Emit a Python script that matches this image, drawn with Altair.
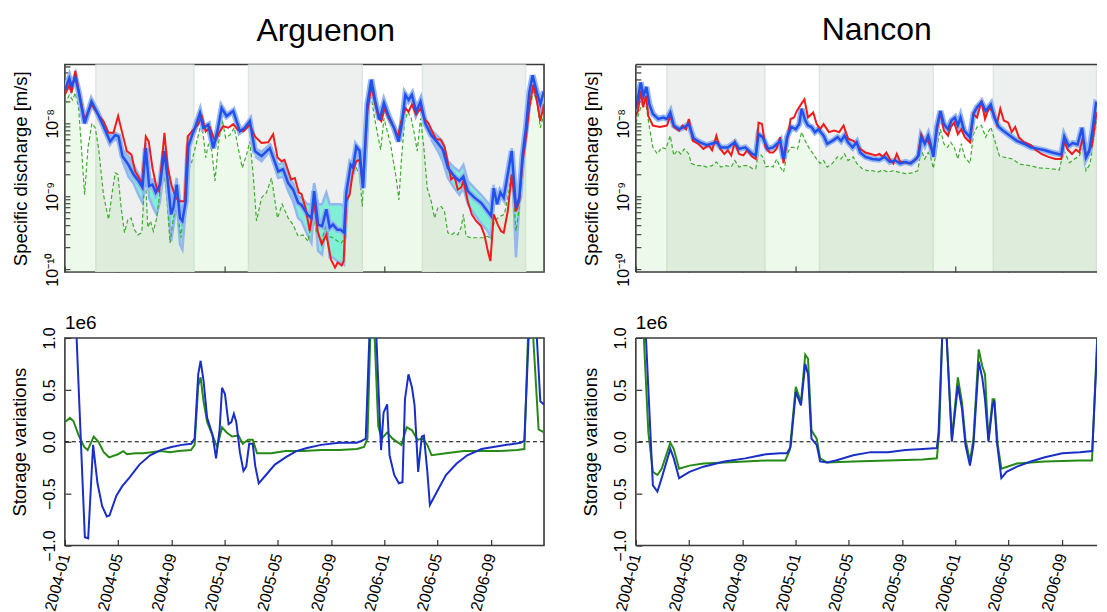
import altair as alt
import pandas as pd

# ---------------- data (t = months since 2004-01-01) ----------------
# top panels: log10 of specific discharge [m/s]
arg_red = [(0.0,-7.61),(0.33,-7.47),(0.5,-7.58),(0.78,-7.28),(1.0,-7.52),(1.48,-7.95),(2.0,-7.74),(2.5,-7.88),(2.9,-7.97),(3.28,-8.13),
           (3.65,-8.13),(4.0,-7.9),(4.28,-8.11),(4.65,-8.38),(5.0,-8.43),(5.28,-8.66),(5.65,-8.77),(5.8,-8.83),(6.08,-8.18),(6.3,-8.25),
           (6.58,-8.61),(6.9,-8.89),(7.08,-8.93),(7.48,-8.13),(7.73,-8.61),(8.03,-8.86),(8.33,-9.02),(8.65,-9.07),(9.0,-9.07),(9.23,-8.18),
           (9.65,-8.09),(10.0,-8.02),(10.28,-7.9),(10.58,-8.11),(10.9,-8.06),(11.28,-8.25),(11.65,-8.11),(11.9,-8.04),(12.28,-8.06),(12.65,-8.01),
           (13.0,-8.09),(13.4,-8.11),(13.9,-8.02),(14.28,-8.18),(14.78,-8.27),(15.28,-8.26),(15.65,-8.15),(15.98,-8.47),(16.28,-8.52),(16.5,-8.5),
           (17.0,-8.77),(17.28,-8.75),(17.58,-8.95),(17.78,-8.97),(18.08,-9.16),(18.4,-9.48),(18.73,-9.07),(19.0,-9.48),(19.3,-9.66),(19.65,-9.53),
           (20.0,-9.87),(20.3,-9.98),(20.5,-9.91),(20.8,-9.95),(20.95,-9.89),(21.15,-9.07),(21.4,-8.98),(21.65,-8.66),(21.9,-8.52),(22.15,-8.5),
           (22.4,-8.84),(22.73,-7.84),(23.03,-7.49),(23.33,-7.74),(23.58,-7.93),(23.78,-7.97),(24.03,-7.79),(24.33,-7.93),(24.73,-8.06),(25.03,-8.18),
           (25.28,-7.97),(25.58,-7.79),(25.83,-7.84),(26.08,-7.74),(26.4,-7.88),(26.73,-7.79),(27.08,-7.95),(27.33,-8.0),(27.65,-8.13),(27.9,-8.22),
           (28.23,-8.22),(28.53,-8.32),(28.78,-8.54),(29.03,-8.77),(29.28,-8.73),(29.53,-8.91),(29.78,-8.88),(29.95,-8.79),(30.28,-9.07),(30.58,-9.25),
           (30.9,-9.34),(31.28,-9.41),(31.53,-9.53),(31.78,-9.75),(31.98,-9.89),(32.23,-9.25),(32.53,-9.39),(32.78,-9.48),(32.98,-9.5),(33.28,-9.21),
           (33.58,-8.7),(33.9,-9.21),(34.15,-9.07),(34.4,-8.52),(34.65,-8.2),(34.9,-7.79),(35.2,-7.47),(35.48,-7.7),(35.73,-7.97),(36.0,-7.74)]

arg_blue = [(0.0,-7.54),(0.33,-7.38),(0.5,-7.49),(0.78,-7.37),(1.03,-7.56),(1.48,-8.0),(2.0,-7.70),(2.4,-7.84),(2.9,-8.04),(3.4,-8.25),
            (3.78,-8.16),(4.03,-8.18),(4.33,-8.45),(4.78,-8.57),(5.15,-8.7),(5.53,-8.79),(5.83,-8.88),(6.08,-8.34),(6.33,-8.86),(6.58,-8.84),
            (6.83,-8.95),(7.15,-8.84),(7.48,-8.38),(7.73,-8.79),(7.98,-9.25),(8.15,-9.16),(8.4,-8.84),(8.65,-9.3),(8.83,-9.34),(9.08,-9.07),
            (9.28,-8.32),(9.53,-8.18),(9.78,-8.06),(10.15,-7.86),(10.4,-8.06),(10.78,-8.02),(11.15,-8.34),(11.48,-8.09),(11.78,-7.79),(12.15,-7.9),
            (12.65,-7.83),(13.15,-8.11),(13.53,-8.06),(13.9,-7.97),(14.28,-8.38),(14.78,-8.45),(15.4,-8.34),(16.03,-8.66),(16.4,-8.63),(16.78,-8.82),
            (17.15,-8.91),(17.53,-9.09),(17.78,-9.12),(18.23,-9.25),(18.53,-9.3),(18.73,-8.93),(19.03,-9.39),(19.33,-9.41),(19.65,-9.18),(19.9,-9.43),
            (20.15,-9.39),(20.48,-9.46),(20.73,-9.46),(20.98,-9.5),(21.15,-8.95),(21.48,-8.57),(21.65,-8.61),(21.9,-8.32),(22.15,-8.38),(22.4,-8.89),
            (22.73,-7.74),(23.03,-7.4),(23.33,-7.7),(23.65,-7.95),(23.98,-7.72),(24.33,-7.9),(24.73,-8.06),(25.08,-8.25),(25.33,-8.0),(25.58,-7.61),
            (25.83,-7.68),(26.08,-7.61),(26.4,-7.84),(26.73,-7.7),(27.08,-8.0),(27.53,-8.16),(28.03,-8.27),(28.4,-8.36),(28.78,-8.61),(29.28,-8.73),
            (29.65,-8.79),(29.95,-8.73),(30.28,-8.93),(30.78,-9.02),(31.28,-9.09),(31.78,-9.21),(32.03,-9.27),(32.23,-8.89),(32.48,-9.11),(32.73,-8.95),
            (32.98,-9.02),(33.28,-8.7),(33.58,-8.38),(33.9,-9.16),(34.15,-9.02),(34.4,-8.43),(34.65,-8.06),(34.9,-7.58),(35.15,-7.34),(35.48,-7.58),
            (35.73,-7.74),(36.0,-7.56)]

arg_green = [(0.0,-7.74),(0.33,-7.61),(0.58,-7.68),(0.78,-7.58),(1.03,-7.79),(1.23,-8.29),(1.48,-8.98),(1.73,-8.34),(2.03,-8.0),(2.28,-8.06),
             (2.53,-8.34),(2.9,-8.98),(3.28,-9.32),(3.53,-8.98),(3.78,-8.68),(3.98,-8.7),(4.23,-9.16),(4.48,-9.5),(4.73,-9.32),(4.98,-9.3),
             (5.23,-9.46),(5.48,-9.53),(5.78,-9.5),(6.03,-8.66),(6.23,-9.43),(6.43,-9.34),(6.65,-9.48),(6.9,-9.3),(7.15,-8.93),(7.4,-8.61),
             (7.65,-8.98),(7.9,-9.64),(8.15,-9.3),(8.4,-9.16),(8.73,-9.57),(8.98,-9.02),(9.23,-8.61),(9.48,-8.57),(9.73,-8.38),(10.03,-8.16),
             (10.28,-7.97),(10.58,-8.47),(10.78,-8.29),(11.03,-8.36),(11.28,-8.79),(11.53,-8.29),(11.83,-7.95),(12.08,-8.2),(12.4,-8.16),(12.73,-8.06),
             (13.03,-8.34),(13.33,-8.61),(13.65,-8.43),(13.9,-8.25),(14.15,-8.7),(14.4,-9.34),(14.78,-9.02),(15.15,-8.95),(15.53,-8.75),(15.98,-9.3),
             (16.33,-9.11),(16.78,-9.3),(17.15,-9.39),(17.53,-9.55),(17.9,-9.53),(18.28,-9.62),(18.65,-9.21),(18.9,-9.48),(19.28,-9.62),(19.58,-9.43),
             (19.83,-9.55),(20.15,-9.57),(20.53,-9.62),(20.78,-9.64),(20.98,-9.59),(21.28,-9.02),(21.53,-8.75),(21.9,-8.61),(22.15,-8.7),(22.35,-9.14),
             (22.65,-8.06),(22.98,-7.58),(23.23,-7.88),(23.48,-8.13),(23.73,-8.36),(23.98,-7.93),(24.23,-8.11),(24.48,-8.29),(24.73,-8.57),(24.9,-8.75),
             (25.1,-9.05),(25.28,-8.52),(25.53,-7.97),(25.78,-7.84),(26.03,-7.93),(26.28,-8.16),(26.48,-8.38),(26.73,-7.93),(26.98,-8.34),(27.23,-8.89),
             (27.53,-9.07),(27.78,-9.3),(28.03,-9.16),(28.28,-9.14),(28.53,-9.21),(28.78,-9.5),(29.03,-9.53),(29.28,-9.5),(29.53,-9.53),(29.78,-9.43),
             (29.95,-9.25),(30.15,-9.55),(30.53,-9.57),(31.03,-9.57),(31.4,-9.57),(31.78,-9.55),(32.03,-9.59),(32.28,-9.34),(32.53,-9.3),(32.78,-9.27),
             (33.03,-9.25),(33.33,-8.98),(33.58,-8.66),(33.9,-9.48),(34.15,-9.16),(34.4,-8.57),(34.65,-8.11),(34.9,-7.84),(35.2,-7.56),(35.48,-7.7),
             (35.73,-8.06),(36.0,-7.88)]

# ensemble envelope of the Arguenon simulation where it is wide: (t, upper log10, lower log10)
arg_env_a = [(3.28,-8.18,-8.29),(3.78,-8.13,-8.22),(4.03,-8.16,-8.25),(4.33,-8.36,-8.52),(4.78,-8.45,-8.73),(5.15,-8.57,-8.82),
             (5.53,-8.70,-8.98),(5.83,-8.79,-9.09),(6.08,-8.27,-8.43),(6.33,-8.77,-9.02),(6.65,-8.77,-9.16),(6.9,-8.89,-9.25),
             (7.15,-8.77,-9.07),(7.48,-8.34,-8.57),(7.73,-8.70,-9.07),(7.98,-9.16,-9.62),(8.15,-9.07,-9.43),(8.4,-8.75,-9.07),
             (8.65,-9.21,-9.66),(8.83,-9.25,-9.73),(9.08,-9.02,-9.16),(9.28,-8.29,-8.36)]
arg_env_b = [(14.28,-8.34,-8.45),(14.78,-8.39,-8.52),(15.4,-8.29,-8.38),(16.03,-8.57,-8.75),(16.4,-8.54,-8.73),(16.78,-8.73,-8.93),
             (17.15,-8.82,-9.07),(17.53,-9.0,-9.30),(17.78,-9.02,-9.34),(18.23,-9.11,-9.53),(18.53,-9.11,-9.64),(18.73,-8.82,-9.11),
             (19.03,-9.11,-9.75),(19.33,-9.11,-9.80),(19.65,-8.95,-9.34),(19.9,-9.11,-9.84),(20.15,-9.11,-9.84),(20.48,-9.11,-9.89),
             (20.73,-9.11,-9.91),(20.98,-9.14,-9.94),(21.15,-8.89,-9.07)]
arg_env_c = [(27.53,-8.09,-8.22),(28.03,-8.18,-8.38),(28.4,-8.25,-8.52),(28.78,-8.52,-8.75),(29.28,-8.61,-8.89),(29.65,-8.66,-8.98),
             (29.95,-8.57,-8.89),(30.28,-8.79,-9.11),(30.78,-8.89,-9.25),(31.28,-8.98,-9.37),(31.78,-9.09,-9.48),(32.03,-9.16,-9.57),
             (32.23,-8.84,-8.95)]
arg_env_d = [(33.58,-8.34,-8.45),(33.9,-9.07,-9.84),(34.15,-8.98,-9.11)]

nan_red = [(0.0,-7.9),(0.16,-7.83),(0.37,-7.55),(0.55,-7.78),(0.76,-7.62),(0.94,-7.9),(1.28,-8.03),(1.81,-8.05),(2.33,-8.03),(2.59,-7.9),
           (2.85,-8.05),(3.25,-8.1),(3.51,-8.03),(3.77,-8.08),(3.98,-7.94),(4.29,-8.24),(4.69,-8.28),(5.08,-8.35),(5.47,-8.3),(5.73,-8.37),
           (6.05,-8.17),(6.34,-8.35),(6.65,-8.42),(6.91,-8.37),(7.17,-8.44),(7.44,-8.26),(7.75,-8.42),(8.09,-8.44),(8.35,-8.37),(8.75,-8.46),
           (9.01,-8.49),(9.22,-7.99),(9.48,-8.01),(9.74,-8.33),(10.06,-8.4),(10.32,-8.4),(10.58,-8.35),(10.84,-8.19),(11.1,-8.55),(11.36,-8.24),
           (11.63,-7.94),(11.89,-7.92),(12.1,-7.83),(12.41,-7.74),(12.67,-7.67),(12.94,-7.92),(13.33,-7.85),(13.59,-8.01),(13.85,-8.08),(14.11,-8.01),
           (14.51,-8.12),(14.9,-8.1),(15.29,-8.12),(15.61,-8.03),(15.95,-8.21),(16.34,-8.24),(16.6,-8.28),(16.86,-8.35),(17.26,-8.4),(17.65,-8.42),
           (18.04,-8.44),(18.3,-8.42),(18.57,-8.46),(18.83,-8.4),(19.09,-8.49),(19.35,-8.55),(19.61,-8.42),(19.87,-8.53),(20.14,-8.53),(20.53,-8.55),
           (20.92,-8.51),(21.18,-8.46),(21.45,-8.15),(21.71,-8.26),(21.97,-8.24),(22.15,-8.33),(22.36,-8.4),(22.62,-8.1),(22.89,-7.85),(23.15,-8.1),
           (23.46,-8.17),(23.67,-8.05),(23.93,-7.99),(24.2,-8.15),(24.46,-8.08),(24.72,-8.19),(25.11,-8.26),(25.37,-7.87),(25.64,-7.92),(25.98,-7.69),
           (26.24,-7.94),(26.55,-7.78),(26.87,-7.85),(27.13,-8.01),(27.39,-7.8),(27.65,-7.96),(27.99,-7.99),(28.25,-8.12),(28.51,-8.05),(28.78,-8.19),
           (29.17,-8.26),(29.69,-8.3),(30.09,-8.37),(30.48,-8.42),(31.0,-8.46),(31.53,-8.49),(31.97,-8.49),(32.2,-8.24),(32.45,-8.36),(32.78,-8.42),
           (33.08,-8.36),(33.33,-8.4),(33.58,-8.2),(33.83,-8.45),(34.08,-8.36),(34.28,-8.31),(34.58,-7.9),(34.83,-7.79),(35.08,-7.65),(35.5,-7.55),
           (36.0,-7.5)]

nan_blue = [(0.0,-7.8),(0.16,-7.65),(0.37,-7.44),(0.58,-7.62),(0.79,-7.5),(1.02,-7.74),(1.28,-7.87),(1.68,-7.94),(2.07,-7.92),(2.33,-7.94),
            (2.59,-7.85),(2.85,-8.03),(3.25,-8.08),(3.64,-8.05),(3.98,-8.01),(4.35,-8.21),(4.82,-8.26),(5.34,-8.3),(6.05,-8.26),(6.39,-8.33),
            (6.91,-8.33),(7.44,-8.26),(7.75,-8.35),(8.22,-8.33),(8.75,-8.42),(9.01,-8.44),(9.22,-8.15),(9.53,-8.19),(9.92,-8.35),(10.32,-8.33),
            (10.63,-8.28),(10.84,-8.24),(11.1,-8.49),(11.36,-8.19),(11.68,-8.05),(12.02,-8.08),(12.28,-8.01),(12.46,-7.8),(12.73,-7.96),(12.94,-8.03),
            (13.2,-8.05),(13.46,-8.12),(13.72,-8.08),(14.11,-8.17),(14.38,-8.28),(14.77,-8.24),(15.16,-8.19),(15.42,-8.24),(15.68,-8.17),(15.95,-8.26),
            (16.29,-8.33),(16.6,-8.26),(16.86,-8.4),(17.26,-8.46),(17.78,-8.49),(18.3,-8.5),(18.7,-8.46),(19.09,-8.53),(19.48,-8.51),(19.87,-8.55),
            (20.27,-8.53),(20.66,-8.55),(21.05,-8.49),(21.26,-8.44),(21.45,-8.19),(21.71,-8.28),(21.97,-8.17),(22.15,-8.28),(22.36,-8.46),(22.62,-8.05),
            (22.89,-7.83),(23.15,-8.01),(23.46,-8.08),(23.72,-7.96),(23.98,-7.92),(24.2,-8.03),(24.4,-7.92),(24.67,-8.1),(25.11,-8.19),(25.37,-7.87),
            (25.64,-7.78),(25.98,-7.71),(26.29,-7.83),(26.68,-7.74),(26.94,-7.92),(27.28,-8.05),(27.6,-8.1),(28.12,-8.17),(28.64,-8.24),(29.17,-8.28),
            (29.69,-8.33),(30.22,-8.35),(30.74,-8.37),(31.27,-8.4),(31.97,-8.43),(32.2,-8.18),(32.53,-8.31),(32.83,-8.27),(33.2,-8.29),(33.53,-8.06),
            (33.83,-8.47),(34.08,-8.38),(34.33,-8.08),(34.58,-7.72),(34.83,-7.74),(35.08,-7.53),(35.5,-7.45),(36.0,-7.45)]

nan_green = [(0.0,-8.0),(0.1,-7.94),(0.37,-7.78),(0.58,-7.67),(0.79,-7.78),(1.02,-8.05),(1.28,-8.33),(1.62,-8.42),(1.94,-8.33),(2.25,-8.35),
             (2.59,-8.17),(2.85,-8.44),(3.12,-8.37),(3.38,-8.42),(3.64,-8.35),(3.98,-8.42),(4.16,-8.55),(4.56,-8.58),(4.95,-8.58),(5.34,-8.6),
             (5.73,-8.58),(6.05,-8.53),(6.39,-8.6),(6.78,-8.58),(7.17,-8.6),(7.44,-8.51),(7.75,-8.6),(8.09,-8.58),(8.43,-8.58),(8.75,-8.62),
             (9.01,-8.62),(9.22,-8.4),(9.53,-8.46),(9.79,-8.6),(10.06,-8.58),(10.32,-8.6),(10.58,-8.49),(10.84,-8.6),(11.1,-8.67),(11.36,-8.42),
             (11.63,-8.33),(11.89,-8.33),(12.15,-8.35),(12.46,-8.12),(12.73,-8.24),(12.99,-8.33),(13.33,-8.42),(13.59,-8.49),(13.85,-8.55),(14.11,-8.51),
             (14.38,-8.6),(14.77,-8.55),(15.16,-8.46),(15.42,-8.49),(15.68,-8.42),(15.95,-8.51),(16.34,-8.46),(16.6,-8.55),(16.99,-8.62),(17.39,-8.65),
             (17.78,-8.65),(18.17,-8.67),(18.57,-8.64),(18.96,-8.67),(19.35,-8.65),(19.74,-8.67),(20.27,-8.69),(20.79,-8.68),(21.18,-8.65),(21.45,-8.37),
             (21.71,-8.49),(21.97,-8.4),(22.15,-8.46),(22.36,-8.62),(22.62,-8.33),(22.89,-8.08),(23.15,-8.28),(23.41,-8.33),(23.67,-8.26),(23.93,-8.33),
             (24.2,-8.49),(24.46,-8.28),(24.72,-8.46),(25.11,-8.55),(25.37,-8.15),(25.64,-8.05),(25.98,-8.03),(26.29,-8.19),(26.68,-8.05),(26.95,-8.22),
             (27.33,-8.45),(27.83,-8.47),(28.33,-8.49),(28.83,-8.56),(29.58,-8.58),(30.33,-8.61),(31.08,-8.62),(31.83,-8.64),(32.03,-8.47),(32.2,-8.38),
             (32.58,-8.54),(32.95,-8.49),(33.33,-8.45),(33.63,-8.31),(33.83,-8.65),(34.13,-8.56),(34.45,-8.17),(34.7,-7.92),(34.95,-7.88),(35.1,-7.84),
             (35.5,-7.8),(36.0,-7.75)]

# bottom panels: storage variations (units of 1e6)
arg_sto_blue = [(0.3,2.5),(0.88,1.0),(1.5,-0.92),(1.75,-0.93),(2.12,-0.03),(2.45,-0.4),(2.8,-0.62),(3.15,-0.72),(3.35,-0.71),(3.87,-0.52),
                (4.3,-0.43),(4.88,-0.34),(5.6,-0.22),(6.4,-0.13),(7.2,-0.08),(8.0,-0.05),(8.8,-0.03),(9.5,-0.02),(9.75,0.03),(10.02,0.65),
                (10.2,0.78),(10.42,0.59),(10.69,0.23),(11.09,0.07),(11.36,-0.16),(11.63,0.12),(11.81,0.52),(12.03,0.46),(12.3,0.17),(12.51,0.19),
                (12.7,0.27),(12.88,0.19),(13.15,-0.1),(13.42,-0.28),(13.63,-0.24),(13.85,-0.02),(14.12,-0.02),(14.3,-0.23),(14.57,-0.4),(15.11,-0.32),
                (15.78,-0.22),(16.58,-0.15),(17.39,-0.09),(18.19,-0.06),(19.26,-0.03),(20.6,-0.01),(21.94,-0.01),(22.34,0.01),(22.61,0.03),(22.88,1.0),
                (23.1,2.0),(23.41,1.0),(23.76,-0.08),(23.95,0.28),(24.22,0.36),(24.4,-0.13),(24.75,-0.32),(25.1,-0.4),(25.37,-0.39),(25.56,0.41),
                (25.82,0.65),(26.09,0.52),(26.28,0.35),(26.55,-0.29),(26.82,0.05),(26.98,0.06),(27.24,-0.29),(27.43,-0.61),(27.97,-0.48),(28.64,-0.32),
                (29.44,-0.21),(30.24,-0.13),(31.31,-0.07),(32.65,-0.04),(34.26,-0.01),(34.53,0.01),(34.85,1.0),(35.1,2.0),(35.47,1.0),(35.73,0.39),
                (36.0,0.36)]
arg_sto_green = [(0.0,0.19),(0.11,0.2),(0.38,0.23),(0.64,0.2),(1.04,0.06),(1.45,-0.05),(1.71,-0.08),(2.17,0.05),(2.52,0.0),(2.92,-0.1),
                 (3.32,-0.15),(3.99,-0.12),(4.39,-0.09),(4.66,-0.12),(5.3,-0.11),(5.87,-0.11),(6.5,-0.1),(7.21,-0.09),(7.9,-0.1),(8.55,-0.09),
                 (9.48,-0.08),(9.75,-0.03),(10.02,0.54),(10.2,0.62),(10.42,0.39),(10.69,0.19),(11.22,0.02),(11.44,-0.05),(11.81,0.14),(12.16,0.09),
                 (12.56,0.05),(13.05,0.06),(13.37,-0.02),(13.77,0.02),(14.12,0.02),(14.44,-0.11),(15.51,-0.11),(16.58,-0.09),(17.92,-0.09),(19.26,-0.08),
                 (20.6,-0.08),(21.94,-0.07),(22.48,-0.05),(22.74,0.03),(22.95,1.0),(23.1,2.0),(23.28,1.0),(23.55,0.15),(23.81,0.03),(24.22,0.09),
                 (24.62,0.03),(25.29,-0.03),(25.69,0.14),(26.09,0.11),(26.49,0.02),(26.9,0.03),(27.24,-0.03),(27.56,-0.13),(28.64,-0.11),(29.98,-0.09),
                 (31.31,-0.09),(32.65,-0.09),(33.99,-0.08),(34.53,-0.07),(34.8,1.0),(35.0,2.0),(35.2,1.0),(35.6,0.12),(36.0,0.09)]
nan_sto_blue = [(0.2,2.0),(0.76,1.0),(1.28,-0.42),(1.62,-0.48),(1.94,-0.35),(2.59,-0.07),(2.85,-0.16),(3.25,-0.35),(4.03,-0.29),(5.08,-0.24),
                (6.65,-0.19),(8.22,-0.16),(9.79,-0.12),(10.84,-0.11),(11.36,-0.11),(11.63,-0.05),(12.02,0.48),(12.41,0.35),(12.73,0.75),(12.94,0.65),
                (13.2,0.03),(13.59,-0.03),(13.85,-0.19),(14.38,-0.2),(15.03,-0.18),(16.34,-0.13),(17.65,-0.1),(18.96,-0.1),(20.27,-0.08),(21.58,-0.07),
                (22.62,-0.06),(22.75,0.09),(23.02,1.0),(23.2,2.0),(23.36,1.0),(23.75,0.0),(24.2,0.54),(24.51,0.32),(24.77,-0.03),(25.11,-0.23),
                (25.37,-0.03),(25.77,0.77),(26.03,0.62),(26.24,0.41),(26.5,0.0),(26.81,0.35),(26.94,0.4),(27.13,0.0),(27.47,-0.35),(27.86,-0.29),
                (28.64,-0.24),(29.69,-0.19),(30.74,-0.15),(32.05,-0.11),(33.36,-0.1),(34.3,-0.09),(34.7,1.0),(35.2,2.0)]
nan_sto_green = [(0.2,2.0),(0.6,1.0),(0.94,0.09),(1.28,-0.29),(1.62,-0.32),(1.94,-0.26),(2.59,-0.01),(2.85,-0.07),(3.25,-0.26),(4.03,-0.23),
                 (5.08,-0.21),(6.65,-0.2),(8.22,-0.19),(9.79,-0.18),(11.23,-0.18),(11.57,-0.08),(12.02,0.53),(12.41,0.38),(12.73,0.84),(12.94,0.8),
                 (13.2,0.11),(13.59,0.03),(13.85,-0.16),(14.38,-0.2),(16.34,-0.19),(18.96,-0.18),(21.58,-0.17),(22.62,-0.16),(22.8,0.09),(23.02,1.0),
                 (23.2,2.0),(23.36,1.0),(23.75,0.03),(24.2,0.62),(24.51,0.38),(24.77,0.03),(25.11,-0.19),(25.37,0.03),(25.77,0.89),(26.03,0.73),
                 (26.24,0.65),(26.5,0.02),(26.81,0.41),(26.94,0.41),(27.2,-0.03),(27.47,-0.26),(28.64,-0.21),(30.74,-0.19),(33.36,-0.18),(34.28,-0.18),
                 (34.67,1.0),(35.2,2.0)]

# shaded seasons (months since 2004-01-01)
band_start = [2.33, 13.8, 26.87]
band_end = [9.7, 22.35, 34.62]

tick_labels = ["2004-01", "2004-05", "2004-09", "2005-01", "2005-05", "2005-09",
               "2006-01", "2006-05", "2006-09"]
sto_ticks = [-1.0, -0.5, 0.0, 0.5, 1.0]

# ---------------- helpers ----------------
BASE = pd.Timestamp("2004-01-01")
END = pd.Timestamp("2007-01-01")


def tdate(m):
    return BASE + pd.Timedelta(days=float(m) * 30.4375)


W, H = 480, 208
W_NAN = 462          # right panel is cut by the picture's right edge
FRAME = "#3a3a3a"
LOG_DOMAIN = [9.1e-11, 6.43e-8]
log_ticks = [k * 10.0 ** e for e in (-11, -10, -9, -8) for k in range(1, 10)
             if LOG_DOMAIN[0] <= k * 10.0 ** e <= LOG_DOMAIN[1]]
x_ticks = [alt.DateTime(year=int(s[:4]), month=int(s[5:]), date=1) for s in tick_labels]


def dt(ts):
    return alt.DateTime(year=ts.year, month=ts.month, date=ts.day, hours=ts.hour, minutes=ts.minute)


DOM_FULL = [dt(BASE), dt(END)]
DOM_NAN = [dt(BASE), dt(BASE + (END - BASE) * (W_NAN / W))]

EXP = "round(log(datum.value)/LN10)"
LOG_LABEL = ("abs(log(datum.value)/LN10 - " + EXP + ") < 0.01 ? '10' + (" + EXP + " == -8 ? '\u207b\u2078' : "
             + EXP + " == -9 ? '\u207b\u2079' : " + EXP + " == -10 ? '\u207b\u00b9\u2070' : '') : ''")


def xenc(field, labels, dom):
    ax = alt.Axis(values=x_ticks, format="%Y-%m", labels=labels, offset=-6, tickSize=6,
                  labelAngle=285, labelAlign="right", labelBaseline="middle", labelPadding=8,
                  labelFlush=False, labelOverlap=False, title=None)
    return alt.X(field, type="temporal", scale=alt.Scale(domain=dom, nice=False), axis=ax)


def ytop(field):
    ax = alt.Axis(values=log_ticks, labelExpr=LOG_LABEL, offset=-5, tickSize=5, labelAngle=270,
                  labelAlign="center", labelBaseline="alphabetic", labelPadding=7, labelOverlap=False,
                  title="Specific discharge [m/s]", titlePadding=14)
    return alt.Y(field, type="quantitative",
                 scale=alt.Scale(type="log", domain=LOG_DOMAIN, nice=False), axis=ax)


def ybot_axis():
    return alt.Axis(values=sto_ticks, format=".1f", offset=-6, tickSize=6, labelAngle=270,
                    labelAlign="center", labelBaseline="alphabetic", labelPadding=10, labelOverlap=False,
                    title="Storage variations", titlePadding=12)


YBOT_SCALE = alt.Scale(domain=[-1, 1], nice=False)


def series_df(pairs, log=True):
    return pd.DataFrame({"date": [tdate(t) for t, _ in pairs],
                         "v": [10.0 ** v if log else v for _, v in pairs]})


bands_df = pd.DataFrame({"start": [tdate(t) for t in band_start], "end": [tdate(t) for t in band_end]})


def open_frame(width):
    """left, top and bottom edges of the plot frame (the right edge is cut off in the picture)"""
    base = alt.Chart(pd.DataFrame({"k": [0]}))
    return [
        base.mark_rule(color=FRAME, strokeWidth=1.6).encode(x=alt.value(0), y=alt.value(0), y2=alt.value(H)),
        base.mark_rule(color=FRAME, strokeWidth=1.6).encode(y=alt.value(0), x=alt.value(0), x2=alt.value(width)),
        base.mark_rule(color=FRAME, strokeWidth=1.6).encode(y=alt.value(H), x=alt.value(0), x2=alt.value(width)),
    ]


def top_panel(red, blue, green, env_segments, dom, width, open_right):
    bands = alt.Chart(bands_df).mark_rect(color="#edf0ef", stroke="#dfe5e3", strokeWidth=1.5, clip=True).encode(
        x=xenc("start", False, dom), x2="end")
    gdf = series_df(green)
    fill = alt.Chart(gdf).mark_area(color="#8cd97a", opacity=0.16, clip=True).encode(
        x=xenc("date", False, dom), y=ytop("v"), y2=alt.datum(LOG_DOMAIN[0]))
    layers = [bands, fill]
    if env_segments:
        rows = []
        for i, seg in enumerate(env_segments):
            for t, hi, lo in seg:
                rows.append({"seg": i, "date": tdate(t), "hi": 10.0 ** hi, "lo": 10.0 ** lo})
        edf = pd.DataFrame(rows)
        layers.append(alt.Chart(edf).mark_area(color="#80efd6", clip=True).encode(
            x=xenc("date", False, dom), y=ytop("hi"), y2="lo", detail="seg:N"))
        for col in ("hi", "lo"):
            layers.append(alt.Chart(edf).mark_line(color="#94b6ef", strokeWidth=2.5, clip=True).encode(
                x=xenc("date", False, dom), y=ytop(col), detail="seg:N"))
    layers.append(alt.Chart(gdf).mark_line(color="#3cae2c", strokeWidth=1.2, strokeDash=[4, 2.5], clip=True).encode(
        x=xenc("date", False, dom), y=ytop("v")))
    bdf = series_df(blue)
    layers.append(alt.Chart(bdf).mark_line(color="#94b6ef", strokeWidth=6, clip=True).encode(
        x=xenc("date", False, dom), y=ytop("v")))
    layers.append(alt.Chart(series_df(red)).mark_line(color="#f01c1c", strokeWidth=2, clip=True).encode(
        x=xenc("date", False, dom), y=ytop("v")))
    layers.append(alt.Chart(bdf).mark_line(color="#2150ef", strokeWidth=2.5, clip=True).encode(
        x=xenc("date", False, dom), y=ytop("v")))
    props = dict(width=width, height=H)
    if open_right:
        layers += open_frame(width)
        props["view"] = alt.ViewBackground(stroke="transparent")
    return alt.layer(*layers).properties(**props)


def bottom_panel(blue, green, dom, width, open_right):
    zero = alt.Chart(pd.DataFrame({"z": [0]})).mark_rule(color="black", strokeDash=[4, 3], strokeWidth=1).encode(
        y=alt.YDatum(0, type="quantitative", scale=YBOT_SCALE, axis=ybot_axis()))
    g = alt.Chart(series_df(green, log=False)).mark_line(color="#268a16", strokeWidth=2, clip=True).encode(
        x=xenc("date", True, dom), y=alt.Y("v:Q", scale=YBOT_SCALE, axis=ybot_axis()))
    b = alt.Chart(series_df(blue, log=False)).mark_line(color="#1a2fc6", strokeWidth=2, clip=True).encode(
        x=xenc("date", True, dom), y=alt.Y("v:Q", scale=YBOT_SCALE, axis=ybot_axis()))
    layers = [zero, g, b]
    props = dict(width=width, height=H,
                 title=alt.TitleParams("1e6", anchor="start", frame="group", fontSize=19,
                                       fontWeight="normal", offset=-6))
    if open_right:
        layers += open_frame(width)
        props["view"] = alt.ViewBackground(stroke="transparent")
    return alt.layer(*layers).properties(**props)


col1 = alt.vconcat(
    top_panel(arg_red, arg_blue, arg_green, [arg_env_a, arg_env_b, arg_env_c, arg_env_d], DOM_FULL, W, False),
    bottom_panel(arg_sto_blue, arg_sto_green, DOM_FULL, W, False), spacing=26,
).properties(title=alt.TitleParams("Arguenon", fontSize=32, fontWeight="normal", anchor="middle", dx=48, offset=16))

col2 = alt.vconcat(
    top_panel(nan_red, nan_blue, nan_green, [], DOM_NAN, W_NAN, True),
    bottom_panel(nan_sto_blue, nan_sto_green, DOM_NAN, W_NAN, True), spacing=26,
).properties(title=alt.TitleParams("Nancon", fontSize=32, fontWeight="normal", anchor="middle", dx=37, offset=16))

chart = alt.hconcat(col1, col2, spacing=35).configure(
    font="Liberation Sans", padding={"left": 2, "top": 5, "right": 0, "bottom": 0}
).configure_view(stroke=FRAME, strokeWidth=1.6).configure_axis(
    domain=False, grid=False, tickColor="#333333", tickWidth=1.2, labelColor="black", titleColor="black",
    labelFontSize=16, titleFontSize=18.5, titleFontWeight="normal"
).configure_title(color="black")

chart.save("out.html", embed_options={"renderer": "svg", "actions": False})
